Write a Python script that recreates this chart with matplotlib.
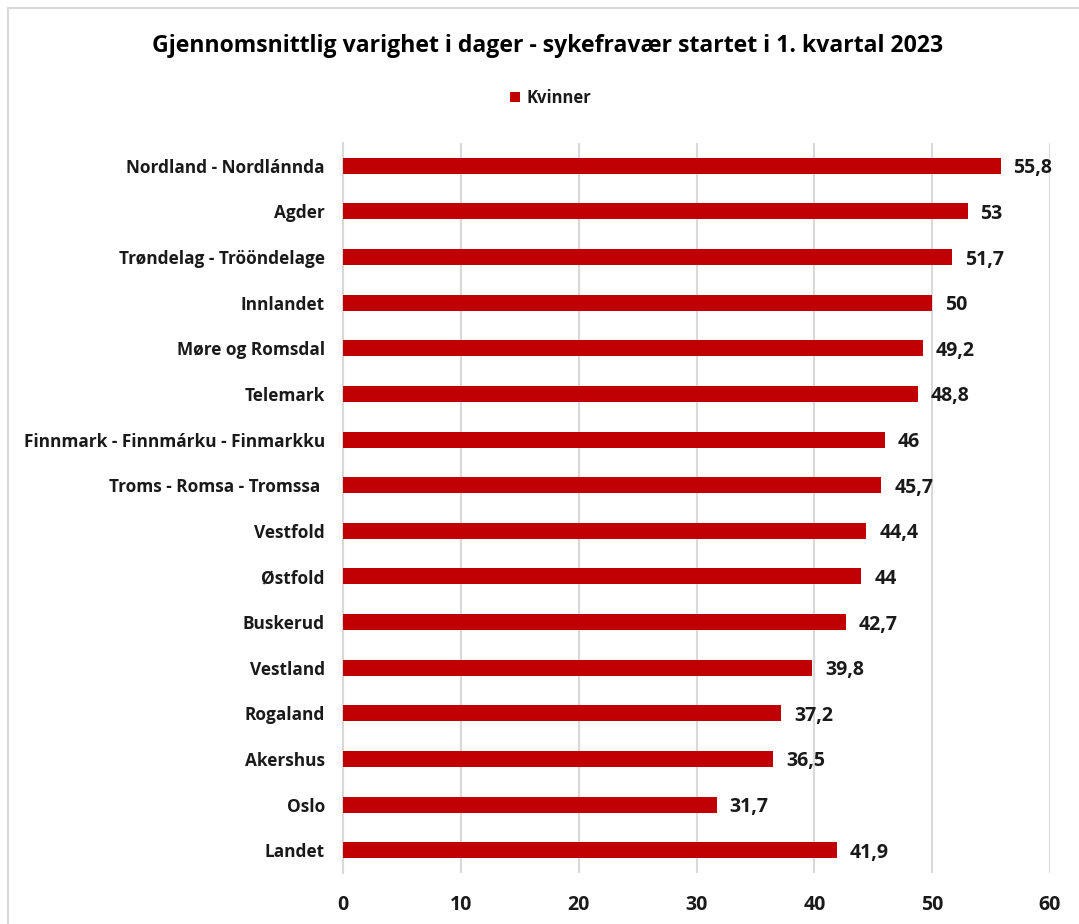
import matplotlib
matplotlib.use("Agg")
import matplotlib.pyplot as plt
from matplotlib.patches import Rectangle

categories = ["Nordland - Nordlánnda", "Agder", "Trøndelag - Trööndelage", "Innlandet",
              "Møre og Romsdal", "Telemark", "Finnmark - Finnmárku - Finmarkku",
              "Troms - Romsa - Tromssa ", "Vestfold", "Østfold", "Buskerud", "Vestland",
              "Rogaland", "Akershus", "Oslo", "Landet"]
values = [55.8, 53, 51.7, 50, 49.2, 48.8, 46, 45.7, 44.4, 44, 42.7, 39.8, 37.2, 36.5, 31.7, 41.9]
labels = ["55,8", "53", "51,7", "50", "49,2", "48,8", "46", "45,7", "44,4", "44", "42,7",
          "39,8", "37,2", "36,5", "31,7", "41,9"]
xticks = [0, 10, 20, 30, 40, 50, 60]
title = "Gjennomsnittlig varighet i dager - sykefravær startet i 1. kvartal 2023"
series_name = "Kvinner"

plt.rcParams['font.family'] = ['Open Sans', 'DejaVu Sans']
color = "#C00000"
grid = "#D9D9D9"
tc = "#1a1a1a"

fig = plt.figure(figsize=(10.79, 9.24), dpi=100)
fig.patches.append(Rectangle((8/1079, -0.01), 1.0, 1 - 8/924 + 0.01, transform=fig.transFigure,
                             fill=False, edgecolor="#D9D9D9", linewidth=1.5))
ax = fig.add_axes([343/1079, 1 - 873/924, (1050-343)/1079, (873-143)/924])

y = list(range(len(categories)))
ax.barh(y, values, height=0.35, color=color, zorder=3, label=series_name)
for yi, v, lab in zip(y, values, labels):
    ax.text(v + 1.1, yi, lab, va="center_baseline", ha="left", fontsize=14, fontweight="bold", color=tc)

ax.set_ylim(len(categories) - 0.5, -0.5)
ax.set_xlim(0, 60)
ax.set_xticks(xticks)
ax.set_xticklabels([str(t) for t in xticks], fontsize=14, fontweight="bold", color=tc)
ax.set_yticks(y)
ax.set_yticklabels(categories, fontsize=12.4, fontweight="bold", color=tc)
ax.tick_params(axis="both", length=0)
ax.tick_params(axis="x", pad=16)
ax.tick_params(axis="y", pad=13)
ax.xaxis.grid(True, color=grid, linewidth=1.5, zorder=0)
for s in ["top", "right", "bottom"]:
    ax.spines[s].set_visible(False)
ax.spines["left"].set_color(grid)
ax.spines["left"].set_linewidth(1.5)

fig.text(548/1079, 1 - 46/924, title, ha="center", va="center", fontsize=16.6, fontweight="bold", color="#000000")
leg = fig.legend(loc="center", bbox_to_anchor=(551/1079, 1 - 98/924), frameon=False,
                 handlelength=0.6, handleheight=0.6, handletextpad=0.4,
                 prop={"weight": "bold", "size": 12})
for t in leg.get_texts():
    t.set_color(tc)

fig.savefig("out.png", dpi=100)
